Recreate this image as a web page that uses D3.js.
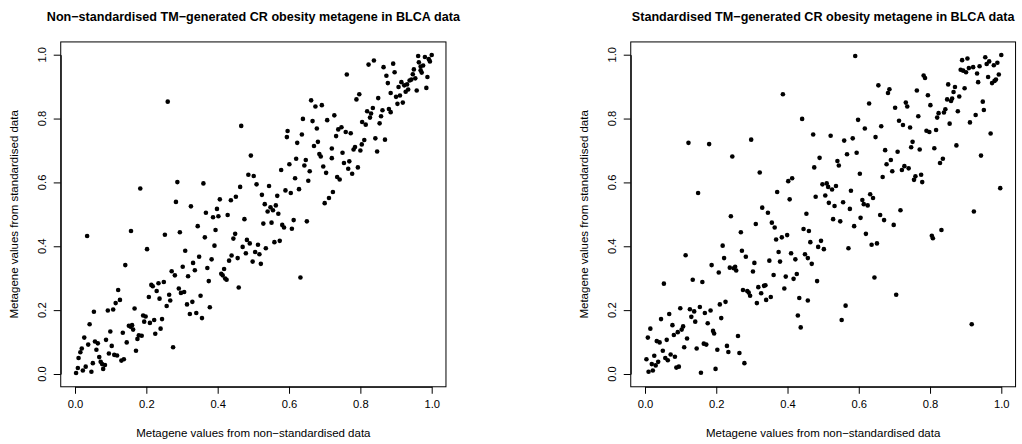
<!DOCTYPE html>
<html>
<head>
<meta charset="utf-8">
<script src="https://cdn.jsdelivr.net/npm/d3@7"></script>
<style>
body { margin: 0; background: #fff; }
svg { display: block; font-family: "Liberation Sans", Arial, Helvetica, sans-serif; }
</style>
</head>
<body>
<script>
// tick values shared by both axes of both panels
var tickValues = [0, 0.2, 0.4, 0.6, 0.8, 1.0];

var mainTitles = [
	"Non\u2212standardised TM\u2212generated CR obesity metagene in BLCA data",
	"Standardised TM\u2212generated CR obesity metagene in BLCA data"
];
var xTitle = "Metagene values from non\u2212standardised data";
var yTitle = "Metagene values from standardised data";

// [non-standardised value, standardised value] per sample, left panel
var nonStdPoints = [
	[0.260,0.853],[0.466,0.777],[0.486,0.624],[0.183,0.581],[0.287,0.601],[0.360,0.597],[0.463,0.586],
	[0.283,0.539],[0.325,0.525],[0.406,0.547],[0.437,0.544],[0.451,0.555],[0.367,0.505],[0.398,0.517],
	[0.493,0.684],[0.501,0.620],[0.509,0.594],[0.544,0.589],[0.524,0.561],[0.532,0.532],[0.548,0.522],
	[0.540,0.509],[0.555,0.513],[0.563,0.528],[0.570,0.502],[0.567,0.558],[0.578,0.639],[0.590,0.575],
	[0.605,0.567],[0.601,0.657],[0.617,0.613],[0.620,0.674],[0.628,0.579],[0.643,0.653],[0.647,0.670],
	[0.658,0.635],[0.654,0.605],[0.623,0.724],[0.594,0.742],[0.596,0.761],[0.636,0.750],[0.639,0.799],
	[0.662,0.857],[0.674,0.838],[0.692,0.842],[0.666,0.792],[0.678,0.769],[0.681,0.727],[0.670,0.714],
	[0.685,0.689],[0.689,0.681],[0.696,0.650],[0.704,0.630],[0.720,0.706],[0.720,0.676],[0.707,0.795],
	[0.727,0.810],[0.732,0.745],[0.738,0.766],[0.747,0.773],[0.759,0.758],[0.773,0.754],[0.750,0.693],
	[0.754,0.661],[0.769,0.666],[0.766,0.643],[0.777,0.627],[0.793,0.647],[0.735,0.617],[0.742,0.609],
	[0.723,0.570],[0.712,0.551],[0.700,0.535],[0.762,0.938],[0.789,0.860],[0.797,0.876],[0.781,0.703],
	[0.785,0.711],[0.800,0.700],[0.804,0.719],[0.811,0.733],[0.805,0.789],[0.815,0.781],[0.819,0.823],
	[0.830,0.816],[0.827,0.803],[0.835,0.833],[0.850,0.864],[0.842,0.738],[0.847,0.697],[0.854,0.785],
	[0.858,0.807],[0.862,0.826],[0.869,0.734],[0.880,0.830],[0.885,0.820],[0.885,0.880],[0.877,0.911],
	[0.873,0.934],[0.865,0.961],[0.892,0.972],[0.896,0.945],[0.823,0.969],[0.838,0.982],[0.900,0.868],
	[0.904,0.846],[0.911,0.872],[0.919,0.850],[0.907,0.899],[0.915,0.914],[0.923,0.904],[0.927,0.884],
	[0.931,0.907],[0.934,0.891],[0.938,0.919],[0.943,0.922],[0.947,0.939],[0.950,0.954],[0.954,0.926],
	[0.958,0.888],[0.962,0.996],[0.964,0.976],[0.969,0.963],[0.969,0.951],[0.976,0.966],[0.972,0.944],
	[0.981,0.993],[0.992,0.986],[1.000,0.999],[0.995,0.979],[0.988,0.930],[0.985,0.896],
	[0.387,0.491],[0.402,0.494],[0.428,0.498],[0.475,0.485],[0.034,0.432],[0.157,0.448],[0.252,0.436],
	[0.294,0.444],[0.344,0.463],[0.394,0.451],[0.364,0.428],[0.444,0.424],[0.449,0.439],[0.482,0.420],
	[0.490,0.409],[0.470,0.398],[0.479,0.378],[0.456,0.363],[0.439,0.371],[0.432,0.355],[0.391,0.402],
	[0.348,0.367],[0.383,0.359],[0.331,0.348],[0.336,0.325],[0.302,0.336],[0.309,0.386],[0.202,0.391],
	[0.141,0.341],[0.271,0.322],[0.280,0.309],[0.317,0.306],[0.371,0.332],[0.375,0.291],[0.410,0.314],
	[0.418,0.329],[0.414,0.309],[0.421,0.299],[0.425,0.295],[0.459,0.271],[0.214,0.279],[0.218,0.275],
	[0.234,0.284],[0.249,0.288],[0.229,0.260],[0.207,0.241],[0.237,0.236],[0.264,0.248],[0.267,0.230],
	[0.257,0.213],[0.291,0.268],[0.297,0.254],[0.306,0.257],[0.329,0.226],[0.314,0.218],[0.352,0.245],
	[0.378,0.209],[0.322,0.188],[0.340,0.191],[0.356,0.175],[0.121,0.263],[0.126,0.232],[0.114,0.222],
	[0.107,0.202],[0.092,0.199],[0.053,0.195],[0.041,0.156],[0.167,0.205],[0.191,0.183],[0.198,0.180],
	[0.194,0.164],[0.210,0.160],[0.222,0.169],[0.244,0.172],[0.240,0.142],[0.225,0.126],[0.151,0.151],
	[0.156,0.148],[0.163,0.139],[0.160,0.153],[0.134,0.129],[0.099,0.133],[0.179,0.121],[0.187,0.120],
	[0.175,0.110],[0.145,0.099],[0.171,0.073],[0.275,0.084],[0.026,0.114],[0.037,0.092],[0.056,0.102],
	[0.064,0.096],[0.087,0.107],[0.103,0.088],[0.060,0.076],[0.019,0.080],[0.015,0.068],[0.010,0.050],
	[0.068,0.053],[0.072,0.038],[0.076,0.031],[0.084,0.028],[0.079,0.016],[0.095,0.064],[0.110,0.060],
	[0.118,0.058],[0.130,0.042],[0.137,0.046],[0.050,0.034],[0.030,0.023],[0.022,0.011],[0.008,0.019],
	[0.003,0.003],[0.046,0.007],
	[0.528,0.471],[0.551,0.474],[0.581,0.467],[0.586,0.459],[0.613,0.482],[0.608,0.455],[0.650,0.478],
	[0.513,0.405],[0.535,0.394],[0.559,0.413],[0.574,0.417],[0.505,0.382],[0.517,0.375],[0.498,0.352],
	[0.521,0.345],[0.632,0.302]
];

// same samples, right panel
var stdPoints = [
	[0.387,0.876],[0.441,0.799],[0.472,0.750],[0.490,0.677],[0.475,0.647],[0.122,0.724],[0.180,0.720],
	[0.298,0.734],[0.245,0.681],[0.322,0.631],[0.402,0.604],[0.413,0.613],[0.149,0.567],[0.371,0.570],
	[0.406,0.547],[0.329,0.521],[0.345,0.505],[0.453,0.502],[0.479,0.555],
	[0.590,0.996],[0.890,0.983],[0.905,0.988],[0.955,0.992],[1.000,0.999],[0.966,0.979],[0.959,0.971],
	[0.989,0.975],[0.979,0.967],[0.939,0.964],[0.921,0.961],[0.909,0.958],[0.886,0.953],[0.893,0.950],
	[0.901,0.945],[0.932,0.941],[0.993,0.938],[0.963,0.930],[0.985,0.922],[0.981,0.918],[0.974,0.911],
	[0.935,0.914],[0.782,0.935],[0.786,0.927],[0.655,0.904],[0.686,0.892],[0.682,0.880],[0.763,0.888],
	[0.851,0.907],[0.870,0.899],[0.897,0.895],[0.866,0.883],[0.794,0.873],[0.882,0.869],[0.848,0.860],
	[0.862,0.863],[0.859,0.855],[0.948,0.853],[0.629,0.847],[0.732,0.850],[0.736,0.838],[0.702,0.834],
	[0.801,0.842],[0.843,0.829],[0.839,0.819],[0.824,0.817],[0.820,0.803],[0.878,0.823],[0.951,0.827],
	[0.928,0.811],[0.912,0.788],[0.855,0.784],[0.598,0.796],[0.767,0.807],[0.713,0.793],[0.724,0.780],
	[0.744,0.772],[0.663,0.776],[0.617,0.769],[0.790,0.762],[0.798,0.758],[0.817,0.764],[0.970,0.753],
	[0.521,0.746],[0.583,0.738],[0.559,0.731],[0.647,0.742],[0.751,0.727],[0.747,0.710],[0.771,0.703],
	[0.812,0.707],[0.874,0.716],[0.674,0.701],[0.709,0.696],[0.594,0.693],[0.567,0.688],[0.943,0.684],
	[0.690,0.670],[0.678,0.657],[0.836,0.674],[0.828,0.661],[0.540,0.667],[0.544,0.653],[0.694,0.635],
	[0.721,0.639],[0.728,0.651],[0.740,0.644],[0.603,0.627],[0.667,0.617],[0.755,0.608],[0.759,0.619],
	[0.775,0.624],[0.778,0.601],[0.997,0.582],[0.498,0.594],[0.510,0.597],[0.514,0.586],[0.525,0.578],
	[0.536,0.589],[0.506,0.559],[0.578,0.574],[0.632,0.563],[0.640,0.551],[0.610,0.545],[0.614,0.532],
	[0.625,0.528],[0.516,0.536],[0.532,0.526],[0.556,0.538],[0.575,0.517],[0.717,0.513],[0.923,0.509],
	[0.241,0.494],[0.311,0.470],[0.356,0.474],[0.364,0.459],[0.445,0.454],[0.460,0.448],[0.269,0.444],
	[0.368,0.421],[0.384,0.428],[0.399,0.435],[0.464,0.413],[0.486,0.398],[0.218,0.402],[0.114,0.372],
	[0.272,0.386],[0.283,0.367],[0.222,0.363],[0.375,0.382],[0.379,0.352],[0.410,0.378],[0.422,0.359],
	[0.449,0.375],[0.457,0.363],[0.307,0.348],[0.349,0.355],[0.187,0.341],[0.207,0.318],[0.238,0.333],
	[0.249,0.331],[0.253,0.336],[0.256,0.324],[0.303,0.321],[0.468,0.345],[0.361,0.310],[0.395,0.305],
	[0.417,0.298],[0.426,0.313],[0.483,0.291],[0.134,0.295],[0.161,0.288],[0.053,0.283],[0.275,0.263],
	[0.287,0.260],[0.291,0.255],[0.295,0.245],[0.318,0.272],[0.334,0.276],[0.338,0.278],[0.326,0.253],
	[0.353,0.241],[0.340,0.232],[0.314,0.222],[0.391,0.268],[0.433,0.238],[0.457,0.230],[0.429,0.183],
	[0.437,0.146],[0.099,0.206],[0.126,0.203],[0.138,0.196],[0.154,0.210],[0.168,0.191],[0.184,0.199],
	[0.210,0.218],[0.226,0.226],[0.045,0.172],[0.068,0.188],[0.130,0.179],[0.141,0.164],[0.176,0.159],
	[0.214,0.175],[0.015,0.142],[0.077,0.153],[0.107,0.149],[0.103,0.139],[0.092,0.131],[0.081,0.122],
	[0.191,0.135],[0.194,0.127],[0.008,0.114],[0.033,0.103],[0.041,0.099],[0.061,0.107],[0.118,0.111],
	[0.261,0.119],[0.110,0.084],[0.145,0.080],[0.165,0.095],[0.172,0.092],[0.230,0.088],[0.234,0.069],
	[0.203,0.076],[0.265,0.066],[0.279,0.034],[0.050,0.073],[0.026,0.057],[0.037,0.038],[0.030,0.027],
	[0.019,0.031],[0.004,0.046],[0.057,0.050],[0.064,0.043],[0.072,0.061],[0.084,0.054],[0.088,0.020],
	[0.095,0.023],[0.010,0.007],[0.022,0.011],[0.157,0.004],[0.198,0.016],
	[0.528,0.485],[0.548,0.478],[0.605,0.489],[0.660,0.498],[0.671,0.482],[0.587,0.463],[0.698,0.467],
	[0.620,0.439],[0.494,0.417],[0.502,0.391],[0.571,0.394],[0.636,0.405],[0.651,0.409],[0.805,0.433],
	[0.808,0.425],[0.832,0.451],[0.644,0.302],[0.705,0.248],[0.563,0.214],[0.552,0.169],[0.917,0.156]
];

var width = 1022, height = 444;

var svg = d3.select('body')
	.append('svg')
	.attr('width', width)
	.attr('height', height);

// pixel position of the 0 and 1 ticks for each panel (R pads the range by 4%)
var panels = [
	{ points: nonStdPoints, title: mainTitles[0], left: 75, right: 431.7 },
	{ points: stdPoints, title: mainTitles[1], left: 645, right: 1001.3 }
];

var axisFont = 11.2;

panels.forEach(function(p){

	var x = d3.scaleLinear().domain([0, 1]).range([p.left, p.right]);
	var y = d3.scaleLinear().domain([0, 1]).range([374, 54.7]);

	var boxL = x(-0.04), boxR = x(1.04), boxT = y(1.04), boxB = y(-0.04);
	var g = svg.append('g');

	// bottom axis
	g.append('g')
		.attr('transform', 'translate(0,' + boxB + ')')
		.call(d3.axisBottom(x)
			.tickValues(tickValues)
			.tickFormat(d3.format('.1f'))
			.tickSize(7)
			.tickSizeOuter(0)
			.tickPadding(6))
		.call(function(a){
			a.selectAll('text').attr('font-size', axisFont).attr('fill', '#000').attr('font-family', null);
			a.selectAll('line, path').attr('stroke', '#000');
		});

	// left axis, labels drawn rotated as R does
	g.append('g')
		.attr('transform', 'translate(' + boxL + ',0)')
		.call(d3.axisLeft(y)
			.tickValues(tickValues)
			.tickFormat('')
			.tickSize(7)
			.tickSizeOuter(0))
		.call(function(a){
			a.selectAll('line, path').attr('stroke', '#000');
		});

	g.selectAll('.ylab')
		.data(tickValues)
		.enter()
		.append('text')
		.attr('transform', function(d){ return 'translate(' + (boxL - 18.5) + ',' + y(d) + ') rotate(-90)'; })
		.attr('text-anchor', 'middle')
		.attr('dy', '0.35em')
		.attr('font-size', axisFont)
		.text(d3.format('.1f'));

	// plot frame
	g.append('rect')
		.attr('x', boxL)
		.attr('y', boxT)
		.attr('width', boxR - boxL)
		.attr('height', boxB - boxT)
		.attr('fill', 'none')
		.attr('stroke', '#000')
		.attr('stroke-width', 1);

	// points
	g.append('g')
		.selectAll('circle')
		.data(p.points)
		.enter()
		.append('circle')
		.attr('cx', function(d){ return x(d[0]); })
		.attr('cy', function(d){ return y(d[1]); })
		.attr('r', 2.3)
		.attr('fill', '#000');

	// titles
	g.append('text')
		.attr('x', (boxL + boxR) / 2)
		.attr('y', 17)
		.attr('dy', '0.35em')
		.attr('text-anchor', 'middle')
		.attr('font-size', 12.6)
		.attr('font-weight', 'bold')
		.text(p.title);

	g.append('text')
		.attr('x', (boxL + boxR) / 2)
		.attr('y', 433)
		.attr('dy', '0.35em')
		.attr('text-anchor', 'middle')
		.attr('font-size', 11.5)
		.text(xTitle);

	g.append('text')
		.attr('transform', 'translate(' + (boxL - 47) + ',' + ((boxT + boxB) / 2) + ') rotate(-90)')
		.attr('dy', '0.35em')
		.attr('text-anchor', 'middle')
		.attr('font-size', 11.5)
		.text(yTitle);
});
</script>
</body>
</html>
